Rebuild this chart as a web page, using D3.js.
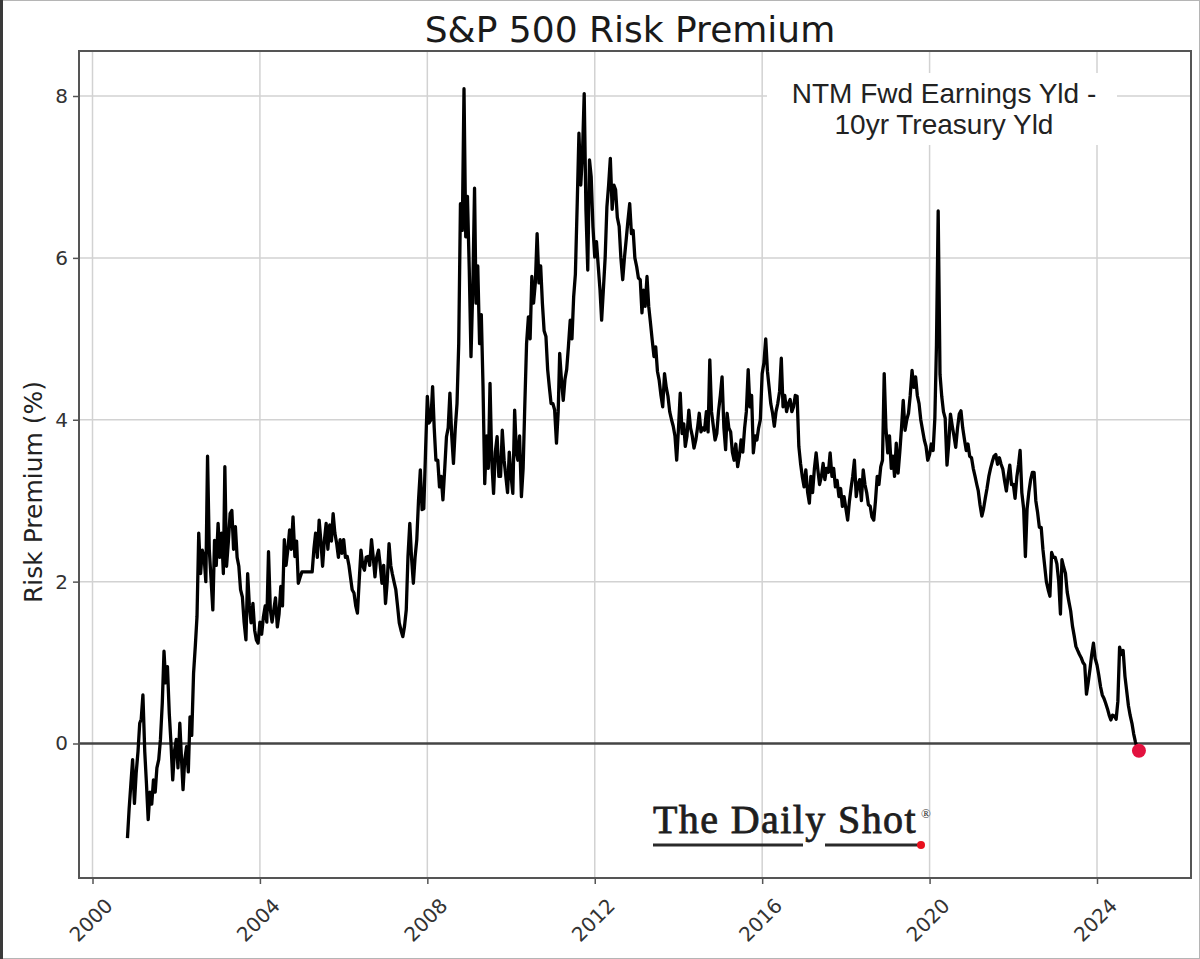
<!DOCTYPE html>
<html>
<head>
<meta charset="utf-8">
<script src="https://cdn.jsdelivr.net/npm/d3@7"></script>
<style>
  body { margin: 0; background: #fff; }
</style>
</head>
<body>
<div class="chart-container"></div>
<script>
var width = 1200;
var height = 959;
var plot = { left: 79, top: 51, right: 1191, bottom: 878 };

// readings on the 1st and 16th of each month, first one is 1 Nov 2000
var startMonth = new Date(2000, 10, 1);
var riskPremium = [
  // 2000
  -1.17, -0.8, -0.5, -0.2,
  // 2001
  -0.74, -0.37, -0.1, 0.25, 0.3, 0.6, -0.1, -0.5, -0.94, -0.6, -0.75, -0.45,
  -0.6, -0.3, -0.2, 0.05, 0.5, 1.14, 0.75, 0.95, 0.37, 0.0, -0.45, -0.1,
  // 2002
  0.05, -0.3, 0.25, -0.2, -0.57, -0.2, -0.04, -0.35, 0.33, 0.1, 0.87, 1.2,
  1.57, 2.6, 2.1, 2.39, 2.3, 2.0, 3.55, 2.4, 2.02, 1.65, 2.51, 2.2,
  // 2003
  2.72, 2.3, 2.6, 2.1, 3.42, 2.19, 2.5, 2.84, 2.88, 2.4, 2.68, 2.3,
  2.19, 1.9, 1.81, 1.5, 1.28, 2.1, 1.7, 1.49, 1.73, 1.4, 1.28, 1.24,
  // 2004
  1.5, 1.35, 1.57, 1.7, 1.5, 2.37, 1.65, 1.5, 1.65, 1.8, 1.44, 1.6,
  1.94, 1.7, 2.52, 2.2, 2.4, 2.64, 2.4, 2.8, 2.31, 2.5, 1.98, 2.05,
  // 2005
  2.12, 2.12, 2.12, 2.12, 2.12, 2.12, 2.12, 2.4, 2.6, 2.3, 2.76, 2.5,
  2.19, 2.5, 2.72, 2.4, 2.7, 2.5, 2.84, 2.6, 2.47, 2.3, 2.52, 2.35,
  // 2006
  2.52, 2.3, 2.31, 2.2, 2.06, 1.9, 1.86, 1.7, 1.61, 2.0, 2.39, 2.2,
  2.14, 2.3, 2.31, 2.2, 2.52, 2.3, 2.06, 2.3, 2.39, 2.2, 1.98, 2.2,
  // 2007
  1.73, 2.0, 2.47, 2.2, 2.1, 2.0, 1.9, 1.7, 1.49, 1.4, 1.32, 1.45,
  1.65, 2.31, 2.72, 2.3, 1.98, 2.3, 2.52, 3.0, 3.38, 2.89, 2.9, 3.59,
  // 2008
  4.29, 3.96, 4.0, 4.41, 3.9, 3.5, 3.5, 3.17, 3.3, 3.01, 3.4, 3.79,
  3.9, 4.33, 3.8, 3.46, 3.9, 4.2, 4.94, 6.67, 6.34, 8.09, 6.26, 6.76,
  // 2009
  5.85, 4.78, 5.64, 6.86, 5.44, 5.9, 4.94, 5.3, 4.41, 3.21, 3.8, 3.4,
  4.45, 3.5, 3.09, 3.6, 3.79, 3.3, 3.3, 3.87, 3.5, 3.3, 3.1, 3.6,
  // 2010
  3.3, 3.09, 4.12, 3.6, 3.5, 3.8, 3.05, 3.4, 4.2, 4.94, 5.27, 5.0,
  5.77, 5.44, 5.7, 6.3, 5.69, 5.9, 5.44, 5.1, 5.03, 4.62, 4.4, 4.2,
  // 2011
  4.2, 4.12, 3.71, 4.1, 4.82, 4.5, 4.24, 4.5, 4.62, 4.9, 5.23, 5.0,
  5.52, 5.8, 6.67, 7.54, 6.9, 7.29, 8.03, 6.6, 5.85, 7.21, 7.0, 6.39,
  // 2012
  6.01, 6.2, 5.89, 5.6, 5.23, 5.6, 6.01, 6.63, 6.9, 7.23, 6.6, 6.9,
  6.84, 6.5, 6.39, 6.0, 5.73, 6.0, 6.22, 6.45, 6.67, 6.3, 6.34, 6.0,
  // 2013
  5.89, 5.75, 5.73, 5.32, 5.6, 5.4, 5.77, 5.4, 5.2, 4.99, 4.78, 4.9,
  4.6, 4.49, 4.3, 4.16, 4.57, 4.4, 4.29, 4.1, 4.0, 3.92, 3.8, 3.5,
  // 2014
  3.9, 4.33, 3.83, 3.95, 3.67, 3.8, 4.12, 3.9, 3.8, 3.65, 3.75, 3.9,
  4.08, 3.85, 3.9, 3.87, 4.1, 3.85, 4.74, 4.1, 3.92, 3.75, 3.83, 4.1,
  // 2015
  4.3, 4.53, 3.9, 3.63, 4.08, 3.9, 3.85, 3.6, 3.5, 3.7, 3.42, 3.55,
  3.75, 3.6, 3.9, 4.1, 4.62, 4.16, 4.3, 3.59, 3.8, 3.75, 3.9, 4.0,
  // 2016
  4.57, 4.7, 5.0, 4.6, 4.41, 4.2, 4.08, 3.92, 4.1, 4.2, 4.35, 4.76,
  4.16, 4.3, 4.1, 4.2, 4.25, 4.1, 4.16, 4.3, 4.29, 3.67, 3.46, 3.3,
  // 2017
  3.17, 3.38, 3.1, 2.97, 3.3, 3.1, 3.4, 3.59, 3.38, 3.2, 3.3, 3.46,
  3.26, 3.4, 3.35, 3.59, 3.3, 3.4, 3.17, 3.25, 3.05, 3.15, 2.93, 3.05,
  // 2018
  2.9, 2.76, 3.0, 3.17, 3.3, 3.5, 3.05, 3.2, 3.26, 3.0, 3.38, 3.2,
  3.1, 2.95, 2.93, 2.8, 2.76, 3.0, 3.3, 3.2, 3.42, 3.5, 4.57, 3.9,
  // 2019
  3.59, 3.8, 3.4, 3.55, 3.3, 3.71, 3.34, 3.6, 3.9, 4.24, 3.87, 4.0,
  4.08, 4.3, 4.61, 4.4, 4.53, 4.3, 4.2, 4.0, 3.87, 3.75, 3.67, 3.5,
  // 2020
  3.57, 3.7, 3.62, 4.02, 4.92, 6.58, 4.56, 4.29, 4.1, 4.02, 3.44, 3.7,
  4.07, 3.93, 3.8, 3.66, 3.9, 4.07, 4.11, 3.9, 3.75, 3.62, 3.7, 3.55,
  // 2021
  3.53, 3.4, 3.3, 3.2, 3.12, 2.95, 2.81, 2.9, 3.03, 3.15, 3.3, 3.4,
  3.48, 3.55, 3.57, 3.45, 3.53, 3.45, 3.39, 3.25, 3.12, 3.3, 3.44, 3.2,
  // 2022
  3.2, 3.03, 3.3, 3.45, 3.62, 3.1, 2.9, 2.31, 2.9, 3.1, 3.26, 3.35,
  3.35, 3.0, 2.85, 2.67, 2.67, 2.4, 2.2, 2.0, 1.9, 1.82, 2.36, 2.3,
  // 2023
  2.3, 2.22, 2.0, 1.6, 2.27, 2.18, 2.1, 1.87, 1.75, 1.64, 1.45, 1.33,
  1.2, 1.15, 1.1, 1.06, 1.0, 0.97, 0.61, 0.75, 0.92, 1.1, 1.24, 1.05,
  // 2024
  0.97, 0.85, 0.7, 0.6, 0.56, 0.5, 0.43, 0.35, 0.29, 0.35, 0.34, 0.3,
  0.52, 1.19, 1.1, 1.15, 0.83, 0.65, 0.47, 0.35, 0.25, 0.12, 0.02, -0.05,
  // 2025
  -0.09
];
var yTicks = [0, 2, 4, 6, 8];
var xTickYears = [2000, 2004, 2008, 2012, 2016, 2020, 2024];
var noteLines = ["NTM Fwd Earnings Yld -", "10yr Treasury Yld"];

const readingDate = (i) => {
  let m = d3.timeMonth.offset(startMonth, Math.floor(i / 2));
  return i % 2 ? d3.timeDay.offset(m, 15) : m;
};

var data = riskPremium.map((v, i) => ({ date: readingDate(i), value: v }));
var xTickDates = xTickYears.map((yr) => new Date(yr, 0, 1));

var svg = d3
  .select(".chart-container")
  .append("svg")
  .attr("width", width)
  .attr("height", height)
  .style("font-family", "'DejaVu Sans', sans-serif");

var x = d3
  .scaleTime()
  .domain([new Date(2000, 0, 1), new Date(2024, 0, 1)])
  .range([92.5, 1097]);

var y = d3.scaleLinear().domain([0, 8]).range([743.5, 96]);

// outer picture border
svg.append("rect")
  .attr("x", 0.5).attr("y", 0.5)
  .attr("width", width - 1).attr("height", height - 1)
  .style("fill", "none").style("stroke", "#b5b5b5");
svg.append("rect")
  .attr("x", 0).attr("y", 0)
  .attr("width", 3).attr("height", height)
  .style("fill", "#3a3a3a");

// grid
svg.append("g")
  .selectAll("line")
  .data(xTickDates)
  .enter()
  .append("line")
  .attr("x1", (d) => x(d)).attr("x2", (d) => x(d))
  .attr("y1", plot.top).attr("y2", plot.bottom)
  .style("stroke", "#d2d2d2").style("stroke-width", 1.5);

svg.append("g")
  .selectAll("line")
  .data(yTicks.filter((t) => t != 0))
  .enter()
  .append("line")
  .attr("x1", plot.left).attr("x2", plot.right)
  .attr("y1", (d) => y(d)).attr("y2", (d) => y(d))
  .style("stroke", "#d2d2d2").style("stroke-width", 1.5);

// note box
var noteX = 944;
svg.append("rect")
  .attr("x", 767).attr("y", 73)
  .attr("width", 350).attr("height", 72)
  .style("fill", "#fff");
svg.append("g")
  .selectAll("text")
  .data(noteLines)
  .enter()
  .append("text")
  .attr("x", noteX)
  .attr("y", (d, i) => 103 + i * 31)
  .attr("text-anchor", "middle")
  .style("font-family", "'Liberation Sans', Arial, sans-serif")
  .style("font-size", "28px")
  .style("fill", "#222")
  .text((d) => d);

// zero line
svg.append("line")
  .attr("x1", plot.left).attr("x2", plot.right)
  .attr("y1", y(0)).attr("y2", y(0))
  .style("stroke", "#444").style("stroke-width", 2.5);

// logo
var logo = svg.append("g").attr("transform", "translate(653,833)");
logo.append("text")
  .attr("x", 0).attr("y", 0)
  .style("font-family", "'Liberation Serif', 'Times New Roman', serif")
  .style("font-size", "40px")
  .style("letter-spacing", "1.4px")
  .style("fill", "#1e1e1e")
  .style("stroke", "#1e1e1e")
  .style("stroke-width", 0.8)
  .text("The Daily Shot");
logo.append("text")
  .attr("x", 268).attr("y", -15)
  .style("font-family", "'Liberation Serif', serif")
  .style("font-size", "13px")
  .style("fill", "#333")
  .text("®");
logo.append("line")
  .attr("x1", 0).attr("x2", 150).attr("y1", 12).attr("y2", 12)
  .style("stroke", "#2a2a2a").style("stroke-width", 3);
logo.append("line")
  .attr("x1", 172).attr("x2", 266).attr("y1", 12).attr("y2", 12)
  .style("stroke", "#2a2a2a").style("stroke-width", 3);
logo.append("circle")
  .attr("cx", 268).attr("cy", 12).attr("r", 4)
  .style("fill", "#e8101e");

// series
var line = d3.line()
  .x((d) => x(d.date))
  .y((d) => y(d.value));

svg.append("path")
  .datum(data)
  .attr("d", line)
  .style("fill", "none")
  .style("stroke", "#000")
  .style("stroke-width", 3.3)
  .style("stroke-linejoin", "round");

var last = data[data.length - 1];
svg.append("circle")
  .attr("cx", x(last.date))
  .attr("cy", y(last.value))
  .attr("r", 7)
  .style("fill", "#e3123f");

// frame
svg.append("rect")
  .attr("x", plot.left).attr("y", plot.top)
  .attr("width", plot.right - plot.left)
  .attr("height", plot.bottom - plot.top)
  .style("fill", "none")
  .style("stroke", "#555")
  .style("stroke-width", 2);

// axes
var yAxis = svg.append("g")
  .attr("transform", `translate(${plot.left},0)`)
  .call(d3.axisLeft(y).tickValues(yTicks).tickFormat(d3.format("d")).tickSize(6).tickPadding(5));
yAxis.select(".domain").remove();
yAxis.selectAll("line").style("stroke", "#555").style("stroke-width", 1.5);
yAxis.selectAll("text")
  .style("font-family", "'DejaVu Sans', sans-serif")
  .style("font-size", "20px")
  .style("fill", "#333");

var xAxis = svg.append("g")
  .attr("transform", `translate(0,${plot.bottom})`)
  .call(d3.axisBottom(x).tickValues(xTickDates).tickFormat(d3.timeFormat("%Y")).tickSize(6));
xAxis.select(".domain").remove();
xAxis.selectAll("line").style("stroke", "#555").style("stroke-width", 1.5);
xAxis.selectAll("text")
  .attr("y", 0)
  .attr("dy", "0.35em")
  .attr("text-anchor", "middle")
  .attr("transform", "translate(-2,42) rotate(-45)")
  .style("font-family", "'DejaVu Sans', sans-serif")
  .style("font-size", "20px")
  .style("fill", "#333");

// titles
svg.append("text")
  .attr("x", 630)
  .attr("y", 42)
  .attr("text-anchor", "middle")
  .style("font-size", "36px")
  .style("fill", "#1a1a1a")
  .text("S&P 500 Risk Premium");

svg.append("text")
  .attr("transform", "translate(42,492) rotate(-90)")
  .attr("text-anchor", "middle")
  .style("font-size", "25px")
  .style("fill", "#222")
  .text("Risk Premium (%)");
</script>
</body>
</html>
